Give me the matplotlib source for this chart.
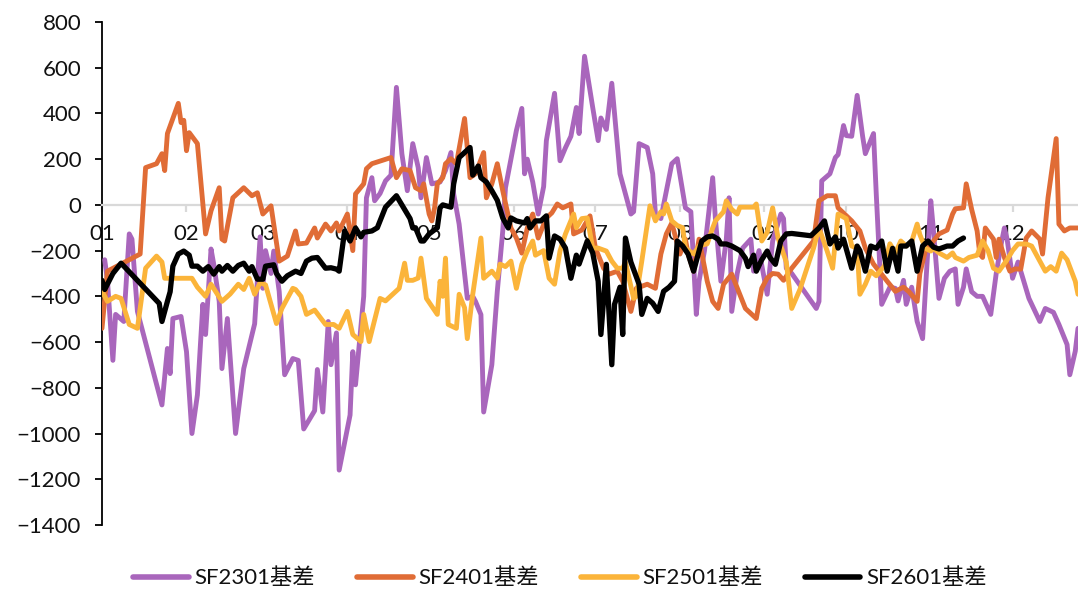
import matplotlib
matplotlib.use("Agg")
import matplotlib.pyplot as plt

plt.rcParams['font.family'] = ['Lato', 'Noto Sans CJK SC', 'DejaVu Sans']

# day of year (0 = Jan 1) and basis values
sf2301_day = [1, 2, 4, 5, 8, 10, 11, 13, 22, 24, 25, 26, 29, 31, 33, 35, 37, 38, 40, 41,
              43, 44, 46, 49, 52, 56, 58, 59, 60, 62, 63, 65, 67, 70, 72, 74, 78, 79, 81, 83,
              84, 86, 87, 91, 92, 93, 96, 97, 99, 100, 102, 104, 106, 108, 110, 112, 114, 116, 117, 119,
              121, 124, 126, 128, 129, 131, 134, 136, 137, 139, 140, 143, 145, 147, 148, 152, 154, 155, 156, 158,
              160, 162, 163, 166, 168, 170, 172, 174, 175, 177, 180, 182, 183, 185, 187, 190, 194, 195, 197, 200,
              202, 203, 205, 209, 211, 214, 216, 218, 219, 221, 224, 225, 227, 229, 230, 231, 233, 235, 238, 239,
              241, 244, 246, 249, 250, 251, 253, 262, 263, 264, 267, 269, 270, 272, 273, 275, 277, 279, 280, 283,
              284, 286, 289, 291, 292, 294, 295, 297, 299, 301, 302, 304, 305, 307, 309, 311, 313, 314, 316, 317,
              319, 321, 323, 326, 328, 330, 331, 332, 334, 336, 340, 344, 346, 349, 351, 354, 355, 357, 358]
sf2301_val = [-240, -330, -680, -479, -510, -127, -150, -466, -875, -628, -738, -497, -488, -642, -1000, -831, -435, -567, -193, -260,
              -422, -716, -497, -1000, -716, -520, -140, -365, -200, -300, -202, -378, -743, -672, -680, -980, -900, -720, -906, -510,
              -699, -560, -1160, -919, -642, -787, -400, 31, 119, 18, 50, 105, 130, 514, 224, 62, 268, 163, 31, 207,
              92, 100, 150, 229, 48, -84, -409, -400, -422, -480, -906, -699, -378, -114, 75, 325, 422, 136, 200, 100,
              -40, 80, 281, 488, 193, 250, 300, 426, 312, 650, 426, 281, 380, 330, 532, 136, -40, -30, 268, 251,
              136, -40, -60, 180, 202, -13, -30, -479, -334, -200, 119, -60, -334, -150, 31, -466, -300, -189, -150, -290,
              -200, -391, -158, -40, -60, -277, -300, -453, -422, 105, 136, 207, 220, 347, 303, 300, 479, 300, 224, 312,
              48, -435, -360, -365, -420, -330, -435, -360, -510, -585, -380, 18, -114, -409, -321, -290, -280, -435, -360, -280,
              -380, -400, -400, -479, -300, -160, -101, -150, -321, -250, -409, -510, -453, -470, -523, -611, -743, -640, -540]

sf2401_day = [0, 2, 14, 16, 20, 22, 23, 24, 28, 29, 30, 31, 32, 35, 38, 40, 43, 44, 45, 48,
              52, 55, 57, 59, 62, 65, 68, 71, 72, 75, 78, 79, 82, 84, 86, 87, 90, 92, 93, 96,
              97, 99, 106, 108, 110, 113, 115, 117, 118, 120, 121, 122, 123, 125, 126, 128, 130, 133, 134, 135,
              137, 140, 141, 143, 145, 147, 150, 152, 154, 156, 158, 160, 163, 165, 167, 169, 172, 173, 176, 179,
              181, 184, 186, 189, 191, 194, 196, 200, 203, 205, 207, 209, 212, 214, 215, 217, 219, 222, 224, 226,
              228, 231, 236, 240, 242, 244, 246, 248, 250, 253, 261, 263, 266, 269, 270, 275, 278, 280, 283, 288,
              291, 294, 296, 299, 300, 302, 305, 307, 310, 312, 313, 316, 317, 319, 321, 322, 323, 324, 327, 328,
              329, 331, 333, 335, 337, 339, 341, 344, 345, 347, 350, 351, 353, 355, 358]
sf2401_val = [-540, -290, -215, 163, 180, 224, 150, 312, 444, 360, 370, 237, 316, 268, -127, -26, 75, -150, -158, 31,
              75, 40, 53, -40, -4, -246, -224, -114, -171, -167, -101, -145, -84, -114, -79, -114, -40, -200, 48, 92,
              158, 180, 207, 119, 158, 150, 75, 62, 92, -40, -70, -13, 92, 119, 180, 202, 180, 378, 251, 119,
              136, 229, 31, 92, 180, 62, -101, -145, -211, -101, -40, -145, -57, -35, 4, -13, 4, -127, -110, -48,
              -189, -277, -303, -290, -334, -466, -365, -347, -365, -215, -127, -79, -215, -150, -215, -290, -150, -334, -422, -453,
              -347, -303, -453, -497, -365, -320, -300, -303, -330, -277, -158, 18, 40, 40, -13, -70, -114, -189, -259, -334,
              -378, -360, -380, -422, -300, -202, -158, -127, -110, -40, -17, -13, 92, -20, -114, -215, -230, -101, -150, -230,
              -150, -230, -290, -280, -281, -145, -114, -150, -215, 31, 290, -84, -114, -101, -101]

sf2501_day = [0, 2, 5, 7, 10, 13, 16, 20, 22, 23, 33, 35, 38, 40, 44, 47, 50, 52, 54, 56,
              58, 60, 62, 64, 66, 70, 71, 73, 75, 78, 82, 85, 87, 90, 92, 95, 96, 98, 102, 104,
              109, 111, 112, 114, 116, 117, 119, 123, 124, 125, 126, 127, 130, 131, 133, 134, 136, 139, 140, 143,
              145, 146, 148, 150, 152, 154, 156, 158, 159, 162, 164, 166, 168, 170, 173, 174, 176, 178, 180, 182,
              185, 187, 189, 191, 192, 195, 196, 198, 201, 203, 205, 206, 207, 209, 211, 213, 214, 217, 219, 222,
              224, 225, 228, 229, 231, 233, 234, 236, 239, 240, 242, 244, 246, 248, 251, 253, 256, 261, 263, 266,
              268, 270, 273, 275, 277, 278, 280, 282, 284, 287, 289, 291, 293, 295, 297, 299, 300, 302, 304, 305,
              307, 310, 312, 313, 316, 318, 321, 323, 325, 327, 329, 332, 334, 336, 339, 341, 344, 346, 348, 350,
              352, 354, 357, 358]
sf2501_val = [-378, -422, -400, -409, -523, -540, -277, -224, -250, -321, -321, -360, -400, -347, -422, -390, -347, -370, -321, -391,
              -340, -350, -435, -519, -453, -365, -370, -400, -479, -460, -523, -523, -540, -466, -567, -598, -479, -598, -409, -420,
              -365, -255, -330, -330, -320, -233, -409, -479, -334, -400, -233, -523, -540, -391, -450, -585, -391, -145, -321, -290,
              -320, -259, -270, -246, -365, -260, -202, -158, -220, -200, -321, -347, -202, -127, -40, -100, -60, -57, -189, -189,
              -202, -246, -277, -277, -250, -409, -400, -246, -4, -70, -30, -40, 4, -70, -90, -100, -189, -215, -180, -170,
              -101, -70, -30, 18, -20, -40, -10, -10, -10, 4, -158, -120, -13, -145, -250, -453, -370, -189, -101, -202,
              -277, -40, -60, -180, -190, -391, -347, -290, -310, -267, -170, -210, -158, -180, -160, -84, -130, -190, -202, -190,
              -210, -230, -210, -230, -246, -230, -220, -158, -200, -277, -290, -240, -200, -171, -171, -180, -246, -290, -270, -290,
              -211, -240, -334, -391]

sf2601_day = [0, 1, 4, 7, 21, 22, 24, 25, 26, 28, 30, 32, 33, 35, 37, 39, 41, 43, 44, 46,
              48, 50, 52, 54, 55, 57, 59, 60, 63, 64, 66, 68, 71, 73, 75, 77, 79, 82, 84, 86,
              87, 89, 91, 93, 95, 96, 99, 101, 103, 104, 108, 111, 113, 114, 115, 117, 118, 120, 123, 124,
              125, 128, 129, 131, 135, 136, 137, 138, 139, 141, 143, 145, 147, 149, 150, 152, 155, 156, 157, 159,
              161, 163, 164, 166, 168, 170, 172, 174, 175, 178, 180, 182, 183, 185, 187, 188, 190, 191, 192, 194,
              197, 198, 200, 202, 204, 206, 208, 210, 211, 213, 215, 217, 219, 220, 222, 224, 226, 227, 229, 231,
              234, 236, 237, 239, 240, 242, 244, 245, 247, 249, 251, 253, 260, 263, 265, 266, 267, 269, 270, 272,
              275, 277, 278, 280, 282, 284, 286, 288, 290, 292, 293, 295, 297, 299, 301, 303, 305, 307, 310, 312,
              314, 316]
sf2601_val = [-330, -370, -300, -255, -431, -510, -422, -380, -268, -215, -202, -220, -268, -268, -290, -270, -303, -270, -290, -265,
              -290, -265, -255, -290, -270, -325, -325, -268, -262, -300, -334, -310, -290, -300, -246, -233, -230, -277, -275, -281,
              -290, -114, -158, -101, -140, -120, -114, -100, -40, -10, 40, -20, -60, -101, -100, -158, -158, -127, -100, -13,
              0, -10, 92, 207, 251, 130, 150, 170, 119, 100, 62, 20, -57, -101, -57, -70, -79, -60, -101, -70,
              -70, -48, -233, -136, -150, -189, -321, -220, -259, -158, -210, -334, -567, -260, -699, -435, -360, -567, -145, -250,
              -347, -479, -409, -430, -466, -378, -360, -334, -158, -180, -215, -290, -202, -158, -140, -136, -150, -171, -171, -180,
              -200, -233, -270, -220, -290, -240, -202, -230, -260, -158, -127, -125, -135, -101, -70, -120, -171, -140, -189, -150,
              -277, -180, -200, -290, -180, -190, -158, -290, -190, -290, -180, -180, -158, -290, -180, -158, -185, -193, -180, -180,
              -158, -145]

month_ticks = [0, 31, 59, 90, 120, 151, 181, 212, 243, 273, 304, 334]
month_labels = ['01', '02', '03', '04', '05', '06', '07', '08', '09', '10', '11', '12']

fig = plt.figure(figsize=(10.78, 5.89), dpi=100)
ax = fig.add_axes([0.0946, 0.1087, 0.9054, 0.854])

style = dict(zorder=3, solid_joinstyle='round', solid_capstyle='round')
ax.plot(sf2301_day, sf2301_val, color='#A966BC', lw=3.5, label='SF2301基差', **style)
ax.plot(sf2401_day, sf2401_val, color='#E06C36', lw=3.5, label='SF2401基差', **style)
ax.plot(sf2501_day, sf2501_val, color='#FBB43A', lw=3.5, label='SF2501基差', **style)
ax.plot(sf2601_day, sf2601_val, color='#000000', lw=3.8, label='SF2601基差', **style)

ax.set_xlim(0, 358)
ax.set_ylim(-1400, 800)
ax.set_yticks(range(-1400, 801, 200))
ax.set_xticks(month_ticks)
ax.set_xticklabels(month_labels)

for s in ['top', 'right']:
    ax.spines[s].set_visible(False)
ax.spines['left'].set_color('black')
ax.spines['left'].set_linewidth(1.3)
ax.spines['bottom'].set_position(('data', 0))
ax.spines['bottom'].set_color('#D9D9D9')
ax.spines['bottom'].set_linewidth(1.6)

ax.tick_params(axis='y', direction='out', length=5, width=1.3, color='black', pad=10,
               labelsize=16, labelcolor='#111111')
ax.tick_params(axis='x', direction='out', length=5, width=1.6, color='#D9D9D9', pad=9,
               labelsize=16, labelcolor='#111111')

leg = fig.legend(loc='center', bbox_to_anchor=(560 / 1078, 1 - 578 / 589), ncol=4,
                 frameon=False, handlelength=2.5, handletextpad=0.25, columnspacing=1.9,
                 prop={'size': 16})
for text in leg.get_texts():
    text.set_color('#111111')
for line in leg.get_lines():
    line.set_linewidth(4)

fig.savefig('out.png', dpi=100)
